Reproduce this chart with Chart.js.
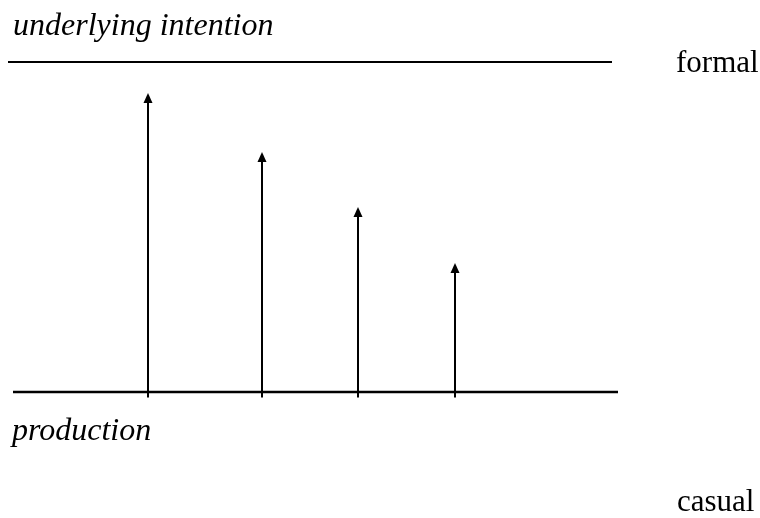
<!DOCTYPE html>
<html>
<head>
<meta charset="utf-8">
<script src="https://cdn.jsdelivr.net/npm/chart.js@4"></script>
<style>
  body { margin: 0; background: #fff; }
  canvas { display: block; }
</style>
</head>
<body>
<canvas id="myChart" width="760" height="518"></canvas>
<script>
// arrow positions (x units) and heights (0 = production line, 10 = formal line)
const arrowX = [14.8, 26.2, 35.8, 45.5];
const arrowTop = [9.06, 7.27, 5.61, 3.91];
const arrowBottom = -0.17;

const formalLine = [{ x: 0.8, y: 10 }, { x: 61.2, y: 10 }];
const productionLine = [{ x: 1.3, y: 0 }, { x: 61.8, y: 0 }];

const labels = [
  { text: 'underlying intention', x: 13, y: 35, italic: true },
  { text: 'formal', x: 676, y: 72, italic: false },
  { text: 'production', x: 12, y: 440, italic: true },
  { text: 'casual', x: 677, y: 511, italic: false }
];

const stemSets = arrowX.map((x, i) => ({
  data: [{ x: x, y: arrowBottom }, { x: x, y: arrowTop[i] - 0.2 }],
  borderColor: '#000',
  borderWidth: 2,
  showLine: true,
  pointRadius: 0
}));

const arrowHeads = {
  id: 'arrowHeads',
  afterDatasetsDraw(chart) {
    const { ctx, scales } = chart;
    ctx.save();
    ctx.fillStyle = '#000';
    arrowX.forEach((x, i) => {
      const px = scales.x.getPixelForValue(x);
      const py = scales.y.getPixelForValue(arrowTop[i]);
      ctx.beginPath();
      ctx.moveTo(px, py);
      ctx.lineTo(px - 4.5, py + 10);
      ctx.lineTo(px + 4.5, py + 10);
      ctx.closePath();
      ctx.fill();
    });
    ctx.restore();
  }
};

const textLabels = {
  id: 'textLabels',
  afterDraw(chart) {
    const ctx = chart.ctx;
    ctx.save();
    ctx.fillStyle = '#000';
    ctx.textBaseline = 'alphabetic';
    labels.forEach(l => {
      ctx.font = l.italic
        ? 'italic 32px "Liberation Serif", "Times New Roman", serif'
        : '31px "Liberation Serif", "Times New Roman", serif';
      ctx.fillText(l.text, l.x, l.y);
    });
    ctx.restore();
  }
};

const config = {
  type: 'scatter',
  data: {
    datasets: [
      { data: formalLine, borderColor: '#000', borderWidth: 2, showLine: true, pointRadius: 0 },
      { data: productionLine, borderColor: '#000', borderWidth: 2.6, showLine: true, pointRadius: 0 },
      ...stemSets
    ]
  },
  options: {
    responsive: false,
    animation: false,
    layout: { padding: 0 },
    plugins: { legend: { display: false }, tooltip: { enabled: false } },
    scales: {
      x: { type: 'linear', min: 0, max: 76, display: false },
      y: { type: 'linear', min: -3.818, max: 11.879, display: false }
    }
  },
  plugins: [arrowHeads, textLabels]
};

const ctx = document.getElementById('myChart');
const myChart = new Chart(ctx, config);
</script>
</body>
</html>
